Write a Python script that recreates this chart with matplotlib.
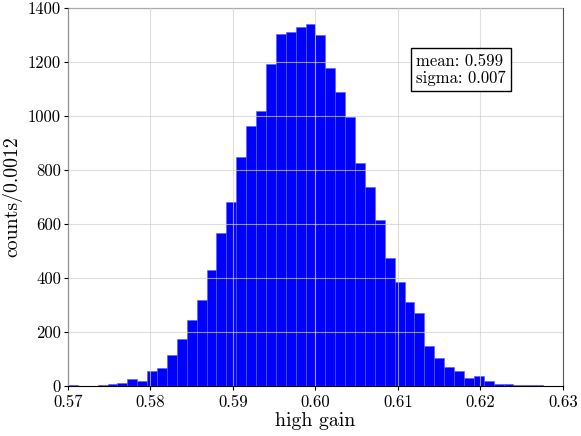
import numpy as np
import matplotlib
matplotlib.use('Agg')
from matplotlib import pyplot as plt

plt.rcParams['font.family'] = ['cmr10', 'DejaVu Serif']
plt.rcParams['axes.unicode_minus'] = False
plt.rcParams['mathtext.fontset'] = 'cm'

# histogram: 50 bins between 0.57 and 0.63 (width 0.0012)
x_lo, x_hi, n_bins = 0.57, 0.63, 50
counts = [2, 1, 1, 3, 6, 12, 25, 17, 57, 67,
          115, 173, 245, 317, 430, 566, 683, 848, 962, 1020,
          1194, 1304, 1311, 1331, 1341, 1300, 1179, 1087, 998, 826,
          737, 613, 475, 385, 311, 270, 148, 105, 69, 54,
          30, 37, 17, 9, 6, 2, 4, 2, 1, 1]
x_ticks = [0.57, 0.58, 0.59, 0.60, 0.61, 0.62, 0.63]
y_ticks = [0, 200, 400, 600, 800, 1000, 1200, 1400]
mean_txt = 'mean: 0.599'
sigma_txt = 'sigma: 0.007'

edges = np.linspace(x_lo, x_hi, n_bins + 1)
centers = 0.5 * (edges[:-1] + edges[1:])

fig = plt.figure(figsize=(5.81, 4.36), dpi=100)
ax = fig.add_axes([0.117, 0.1147, 0.852, 0.867])

ax.hist(centers, bins=edges, weights=counts, color='#0000ff',
        edgecolor=(0.35, 0.35, 1.0), linewidth=0.4)

ax.set_xlim(x_lo, x_hi)
ax.set_ylim(0, 1400)
ax.set_xticks(x_ticks)
ax.set_xticklabels(['%.2f' % t for t in x_ticks])
ax.set_yticks(y_ticks)
ax.tick_params(labelsize=12, direction='out', length=3, width=0.8, pad=2)
ax.tick_params(axis='x', pad=3.5)

ax.grid(True, color='#d0d0d0', alpha=0.7, linewidth=0.8)
ax.set_axisbelow(False)

for s in ['top', 'right']:
    ax.spines[s].set_color('#555555')
for s in ['left', 'bottom']:
    ax.spines[s].set_color('black')

ax.set_xlabel('high gain', fontsize=14.3, labelpad=1)
ax.set_ylabel('counts/0.0012', fontsize=14.3, labelpad=4)

ax.text(0.703, 0.880, mean_txt + '\n' + sigma_txt, transform=ax.transAxes,
        fontsize=12, va='top', ha='left', linespacing=1.15,
        bbox=dict(boxstyle='square,pad=0.3', facecolor='white',
                  edgecolor='black', linewidth=1.0))

fig.savefig('out.png', dpi=100)
